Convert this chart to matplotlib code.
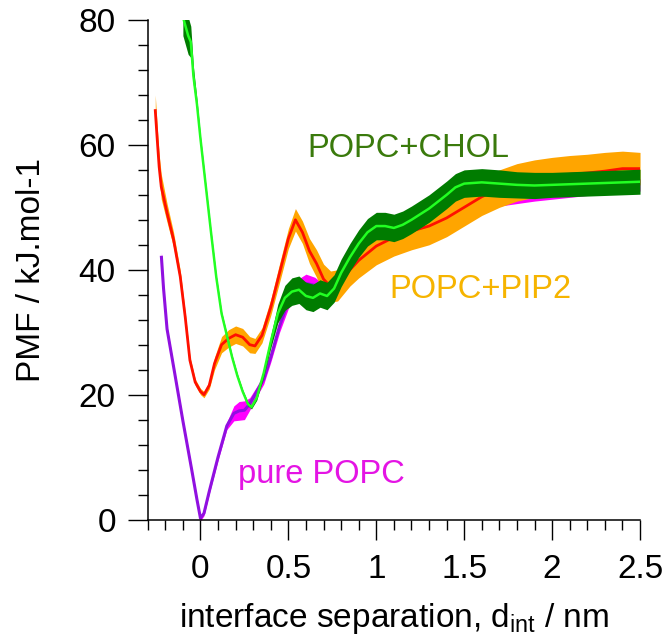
import numpy as np
import matplotlib
matplotlib.use("Agg")
import matplotlib.pyplot as plt
from matplotlib.ticker import MultipleLocator, FuncFormatter

plt.rcParams["font.family"] = "Liberation Sans"
plt.rcParams["mathtext.fontset"] = "custom"
plt.rcParams["mathtext.rm"] = "Liberation Sans"
plt.rcParams["mathtext.it"] = "Liberation Sans:italic"

# pure POPC
popc_x = [-0.222, -0.21, -0.19, -0.15, -0.1, -0.05, -0.02, 0.0, 0.02, 0.05, 0.1, 0.15,
          0.19, 0.22, 0.25, 0.28, 0.32, 0.36, 0.4, 0.45, 0.5, 0.55, 0.6, 0.65, 0.7,
          0.75, 0.8, 0.9, 1.0, 1.1, 1.2, 1.3, 1.4, 1.5, 1.6, 1.7, 1.8, 1.9, 2.0,
          2.2, 2.4, 2.5]
popc_y = [42.0, 37.0, 30.5, 24.0, 15.8, 8.0, 3.2, 0.2, 1.0, 4.5, 10.0, 15.0,
          17.0, 17.4, 17.5, 18.5, 20.5, 22.5, 26.0, 31.0, 35.0, 37.0, 37.8, 37.5, 36.5,
          37.0, 39.5, 43.5, 46.0, 47.5, 48.3, 49.0, 49.6, 50.2, 50.8, 51.2, 51.6, 52.0, 52.3,
          52.9, 53.4, 53.6]
popc_err = [0.8, 0.6, 0.5, 0.4, 0.4, 0.4, 0.4, 0.4, 0.4, 0.4, 0.5, 0.6,
            1.2, 1.5, 1.5, 1.0, 0.8, 0.8, 0.8, 1.0, 1.2, 1.4, 1.5, 1.3, 1.2,
            1.0, 1.0, 1.0, 1.0, 1.2, 1.0, 1.0, 1.0, 1.0, 1.0, 1.0, 1.0, 1.0, 1.0,
            1.0, 1.0, 1.0]

# POPC+PIP2
pip2_x = [-0.257, -0.245, -0.235, -0.223, -0.19, -0.153, -0.115, -0.087, -0.06, -0.03,
          0.0, 0.02, 0.05, 0.08, 0.12, 0.16, 0.2, 0.24, 0.28, 0.31, 0.35, 0.4,
          0.45, 0.5, 0.54, 0.58, 0.62, 0.66, 0.7, 0.74, 0.78, 0.85, 0.9, 1.0, 1.1,
          1.2, 1.3, 1.4, 1.5, 1.6, 1.7, 1.8, 1.9, 2.0, 2.1, 2.2, 2.3, 2.4, 2.5]
pip2_y = [65.5, 60.5, 56.5, 53.3, 49.1, 44.8, 38.9, 32.5, 25.5, 22.0,
          20.5, 20.0, 21.5, 25.0, 28.0, 29.0, 29.6, 29.2, 28.0, 27.8, 29.5, 34.0,
          39.5, 45.0, 48.0, 46.0, 43.0, 41.0, 38.5, 37.3, 37.5, 40.0, 41.5, 43.8, 45.2,
          46.2, 47.0, 48.3, 50.0, 51.7, 53.0, 54.0, 54.6, 55.0, 55.3, 55.5, 55.8, 56.2, 56.2]
pip2_err = [2.5, 2.0, 2.0, 2.0, 1.5, 1.2, 1.0, 0.8, 0.6, 0.5,
            0.5, 0.5, 0.6, 1.0, 1.3, 1.4, 1.4, 1.4, 1.3, 1.2, 1.2, 1.3,
            1.5, 1.6, 1.8, 1.8, 2.0, 2.2, 2.4, 2.5, 2.5, 2.6, 2.8, 3.0, 3.0,
            3.0, 3.0, 3.0, 3.0, 3.0, 3.0, 3.0, 3.0, 3.0, 3.0, 3.0, 3.0, 2.8, 2.6]

# POPC+CHOL
chol_x = [-0.1, -0.085, -0.07, -0.055, -0.04, -0.02, 0.0, 0.03, 0.06, 0.09, 0.12, 0.15,
          0.18, 0.21, 0.24, 0.27, 0.29, 0.32, 0.36, 0.4, 0.44, 0.48, 0.52, 0.56, 0.6,
          0.64, 0.68, 0.72, 0.76, 0.8, 0.85, 0.9, 0.95, 1.0, 1.05, 1.1, 1.15, 1.2,
          1.3, 1.4, 1.45, 1.5, 1.6, 1.7, 1.8, 1.9, 2.0, 2.1, 2.2, 2.3, 2.4, 2.5]
chol_y = [80.5, 79.0, 77.5, 76.5, 71.0, 66.5, 61.0, 53.5, 46.0, 38.8, 33.0, 29.5,
          26.0, 23.0, 20.5, 18.5, 18.0, 19.5, 23.5, 28.5, 33.0, 35.5, 36.5, 36.8, 35.8,
          35.5, 36.2, 35.8, 37.0, 39.5, 42.0, 44.2, 46.0, 47.0, 47.0, 46.7, 47.2, 48.0,
          49.8, 52.0, 53.2, 53.8, 54.0, 53.8, 53.6, 53.5, 53.6, 53.7, 53.8, 53.9, 54.0, 54.1]
chol_err = [3.0, 3.0, 3.0, 2.5, 1.5, 0.8, 0.4, 0.3, 0.3, 0.3, 0.3, 0.3,
            0.3, 0.3, 0.3, 0.3, 0.3, 0.4, 0.6, 1.0, 1.5, 2.0, 2.2, 2.2, 2.2,
            2.2, 2.2, 2.2, 2.2, 2.2, 2.2, 2.2, 2.2, 2.2, 2.2, 2.2, 2.2, 2.2,
            2.2, 2.2, 2.2, 2.2, 2.2, 2.2, 2.1, 2.1, 2.0, 2.0, 2.0, 2.0, 2.0, 2.0]

fig = plt.figure(figsize=(6.66, 6.42), dpi=100)
ax = fig.add_axes([0.2218, 0.1908, 0.7392, 0.778])

# bands first, then the mean line on top
for xs, ys, es, band_c, line_c, lw, z in [
        (popc_x, popc_y, popc_err, "#ff00ff", "#9010e0", 2.2, 1),
        (pip2_x, pip2_y, pip2_err, "#ffa500", "#ff1000", 2.0, 3),
        (chol_x, chol_y, chol_err, "#007c00", "#22ff22", 1.8, 5)]:
    xs = np.array(xs)
    ys = np.array(ys)
    es = np.array(es)
    ax.fill_between(xs, ys - es, ys + es, color=band_c, lw=0, zorder=z)
    ax.plot(xs, ys, color=line_c, lw=lw, zorder=z + 1)

ax.text(0.61, 58.1, "POPC+CHOL", fontsize=23.5, color="#3a7a0c", zorder=10)
ax.text(1.076, 35.5, "POPC+PIP2", fontsize=23.5, color="#f6b400", zorder=10)
ax.text(0.214, 5.9, "pure POPC", fontsize=23.5, color="#e414e4", zorder=10)

ax.set_xlim(-0.3, 2.5)
ax.set_ylim(0, 80)
ax.spines["top"].set_visible(False)
ax.spines["right"].set_visible(False)
ax.spines["left"].set_linewidth(1.1)
ax.spines["bottom"].set_linewidth(1.1)

ax.xaxis.set_major_locator(MultipleLocator(0.5))
ax.xaxis.set_minor_locator(MultipleLocator(0.1))
ax.yaxis.set_major_locator(MultipleLocator(20))
ax.yaxis.set_minor_locator(MultipleLocator(4))
fmt = FuncFormatter(lambda v, p: "%g" % v)
ax.xaxis.set_major_formatter(fmt)
ax.yaxis.set_major_formatter(fmt)
ax.tick_params(which="major", direction="out", length=14.5, width=1.0, labelsize=24)
ax.tick_params(which="minor", direction="out", length=7.5, width=1.0)
ax.tick_params(axis="x", which="major", pad=10)
ax.tick_params(axis="y", which="major", pad=8.5)

ax.set_ylabel("PMF / kJ.mol-1", fontsize=24)
ax.yaxis.set_label_coords(-0.205, 0.5)
ax.set_xlabel(r"interface separation, d$_{\mathrm{int}}$ / nm", fontsize=24)
ax.xaxis.set_label_coords(0.5, -0.163)

fig.savefig("out.png", dpi=100)
